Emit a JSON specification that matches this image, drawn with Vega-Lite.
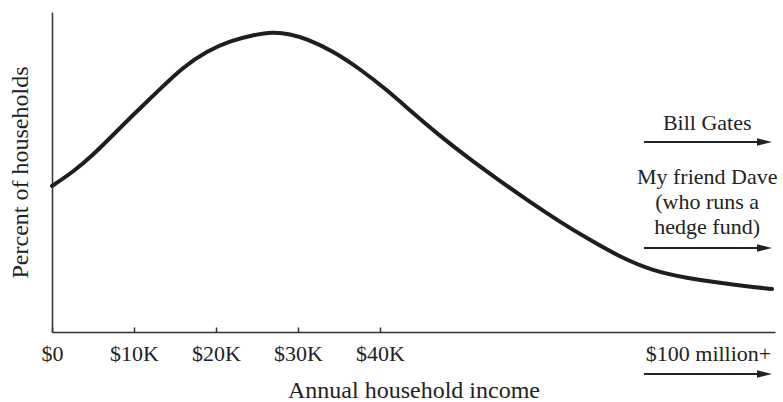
{
  "$schema": "https://vega.github.io/schema/vega-lite/v6.json",
  "autosize": {"type": "none"},
  "padding": {"left": 52, "top": 12, "right": 8, "bottom": 70},
  "width": 723,
  "height": 320,
  "background": "white",
  "config": {"view": {"stroke": null}, "font": "Liberation Serif"},
  "layer": [
    {
      "data": {"values": [
        {"income": 0, "share": 146},
        {"income": 2561, "share": 160},
        {"income": 5000, "share": 177},
        {"income": 7439, "share": 197},
        {"income": 9878, "share": 217},
        {"income": 12805, "share": 240},
        {"income": 15976, "share": 265},
        {"income": 18902, "share": 281},
        {"income": 21707, "share": 291},
        {"income": 24512, "share": 297},
        {"income": 26951, "share": 300},
        {"income": 29024, "share": 298},
        {"income": 31098, "share": 293},
        {"income": 34268, "share": 281},
        {"income": 37561, "share": 263},
        {"income": 40854, "share": 242},
        {"income": 44024, "share": 219},
        {"income": 47317, "share": 196},
        {"income": 50610, "share": 175},
        {"income": 53780, "share": 156},
        {"income": 57927, "share": 132},
        {"income": 61951, "share": 110},
        {"income": 65610, "share": 92},
        {"income": 69268, "share": 75},
        {"income": 73293, "share": 61},
        {"income": 77439, "share": 54},
        {"income": 81463, "share": 49},
        {"income": 85488, "share": 45},
        {"income": 87805, "share": 43}
      ]},
      "mark": {"type": "line", "interpolate": "basis", "stroke": "#1e1e1e", "strokeWidth": 4, "strokeCap": "round"},
      "encoding": {
        "x": {
          "field": "income", "type": "quantitative",
          "scale": {"domain": [0, 88170], "nice": false, "zero": false},
          "axis": {
            "title": "Annual household income",
            "values": [0, 10000, 20000, 30000, 40000, 80000],
            "labelExpr": "datum.value == 80000 ? '$100 million+' : datum.value == 0 ? '$0' : '$' + (datum.value / 1000) + 'K'",
            "grid": false,
            "domainColor": "#333", "domainWidth": 1.5,
            "tickColor": "#333", "tickWidth": 1.5, "tickSize": -5,
            "tickOpacity": {"condition": {"test": "datum.value == 80000", "value": 0}, "value": 1},
            "labelFont": "Liberation Serif", "labelFontSize": 22, "labelColor": "#222",
            "labelPadding": 16, "labelFlush": false, "labelOverlap": false,
            "titleFont": "Liberation Serif", "titleFontSize": 24, "titleFontWeight": "normal",
            "titleColor": "#222", "titlePadding": 14
          }
        },
        "y": {
          "field": "share", "type": "quantitative",
          "scale": {"domain": [0, 320], "nice": false, "zero": false},
          "axis": {
            "title": "Percent of households",
            "labels": false, "ticks": false, "grid": false,
            "domainColor": "#333", "domainWidth": 1.5,
            "titleFont": "Liberation Serif", "titleFontSize": 24, "titleFontWeight": "normal",
            "titleColor": "#222", "titlePadding": 20
          }
        }
      }
    },
    {
      "data": {"values": [
        {"income": 72200, "income2": 86300, "share": 190},
        {"income": 72200, "income2": 86300, "share": 84},
        {"income": 72200, "income2": 86300, "share": -42}
      ]},
      "mark": {"type": "rule", "stroke": "#222", "strokeWidth": 2},
      "encoding": {
        "x": {"field": "income", "type": "quantitative"},
        "x2": {"field": "income2"},
        "y": {"field": "share", "type": "quantitative"}
      }
    },
    {
      "data": {"values": [
        {"income": 86890, "share": 190},
        {"income": 86890, "share": 84},
        {"income": 86890, "share": -42}
      ]},
      "mark": {"type": "point", "shape": "M-1,-0.5L1,0L-1,0.5Z", "filled": true, "fill": "#222", "stroke": null, "size": 225, "opacity": 1},
      "encoding": {
        "x": {"field": "income", "type": "quantitative"},
        "y": {"field": "share", "type": "quantitative"}
      }
    },
    {
      "data": {"values": [
        {"label": "Bill Gates", "income": 79900, "share": 202},
        {"label": "My friend Dave", "income": 79900, "share": 148},
        {"label": "(who runs a", "income": 79900, "share": 123},
        {"label": "hedge fund)", "income": 79900, "share": 98}
      ]},
      "mark": {"type": "text", "font": "Liberation Serif", "fontSize": 22, "fill": "#222", "align": "center", "baseline": "alphabetic"},
      "encoding": {
        "x": {"field": "income", "type": "quantitative"},
        "y": {"field": "share", "type": "quantitative"},
        "text": {"field": "label"}
      }
    }
  ]
}
